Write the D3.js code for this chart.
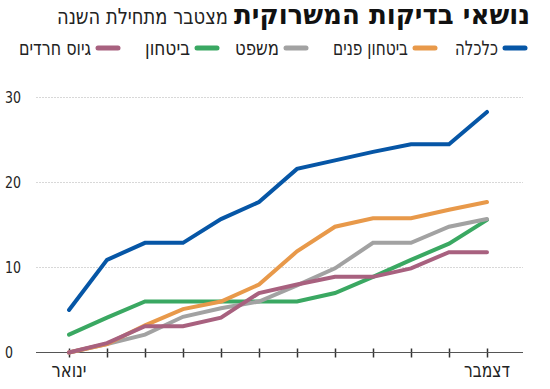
<!DOCTYPE html>
<html><head><meta charset="utf-8">
<script src="https://cdn.jsdelivr.net/npm/d3@7"></script>
<style>
html,body{margin:0;padding:0;background:#fff;}
svg{display:block;font-family:"DejaVu Sans",sans-serif;font-stretch:condensed;}
</style></head>
<body>
<svg id="chart" width="550" height="389"></svg>
<script>
const months = ["ינואר","פברואר","מרץ","אפריל","מאי","יוני","יולי","אוגוסט","ספטמבר","אוקטובר","נובמבר","דצמבר"];
const monthLabels = ["ינואר","","","","","","","","","","","דצמבר"];
const seriesNames = ["כלכלה","ביטחון פנים","משפט","ביטחון","גיוס חרדים"];
const seriesColors = ["#0656a6","#e8994a","#a2a2a2","#3aa862","#a8617f"];
const economy  = [5, 10.9, 12.9, 12.9, 15.7, 17.7, 21.6, 22.6, 23.6, 24.5, 24.5, 28.3];
const internal = [0, 1.0, 3.2, 5.1, 6.0, 8.0, 11.9, 14.8, 15.8, 15.8, 16.8, 17.7];
const law      = [0, 1.0, 2.1, 4.2, 5.2, 6.0, 7.9, 9.9, 12.9, 12.9, 14.8, 15.7];
const security = [2.1, 4.1, 6.0, 6.0, 6.0, 6.0, 6.0, 7.0, 8.9, 10.9, 12.8, 15.6];
const haredi   = [0, 1.1, 3.1, 3.1, 4.1, 7.0, 8.0, 8.9, 8.9, 9.9, 11.8, 11.8];
const yTicks = [0, 10, 20, 30];
const title = "נושאי בדיקות המשרוקית";
const subtitle = "מצטבר מתחילת השנה";

const seriesValues = [economy, internal, law, security, haredi];
const svg = d3.select("#chart");

const x = d3.scaleLinear().domain([0, 11]).range([69, 487]);
const y = d3.scaleLinear().domain([0, 30]).range([352.5, 97.5]);
const plotLeft = 36, plotRight = 523;

// Title
svg.append("text").attr("x", 530).attr("y", 24).attr("text-anchor", "end")
  .attr("font-size", 27).attr("font-weight", "bold").attr("fill", "#111")
  .attr("textLength", 296).attr("lengthAdjust", "spacingAndGlyphs").text(title);
svg.append("text").attr("x", 228).attr("y", 24).attr("text-anchor", "end")
  .attr("font-size", 22).attr("fill", "#222")
  .attr("textLength", 171).attr("lengthAdjust", "spacingAndGlyphs").text(subtitle);

// Legend
const legendX = [525, 435, 306, 217, 118];
const legendW = [43, 75, 44, 45, 72];
seriesNames.forEach((n, i) => {
  const g = svg.append("g");
  g.append("line").attr("x1", legendX[i] - 20).attr("x2", legendX[i])
    .attr("y1", 48).attr("y2", 48).attr("stroke", seriesColors[i])
    .attr("stroke-width", 5).attr("stroke-linecap", "round");
  g.append("text").attr("x", legendX[i] - 27).attr("y", 55).attr("text-anchor", "end")
    .attr("font-size", 20).attr("fill", "#222")
    .attr("textLength", legendW[i]).attr("lengthAdjust", "spacingAndGlyphs").text(n);
});

// Gridlines
svg.append("g").selectAll("line").data(yTicks.filter(d => d > 0)).join("line")
  .attr("x1", plotLeft).attr("x2", plotRight)
  .attr("y1", d => y(d)).attr("y2", d => y(d))
  .attr("stroke", "#d8d8d8").attr("stroke-width", 1).attr("stroke-dasharray", "2,1");

// Y tick labels
svg.append("g").selectAll("text").data(yTicks).join("text")
  .attr("x", 5).attr("y", d => y(d) + 5.5).attr("font-size", 15).attr("fill", "#222")
  .attr("textLength", d => d === 0 ? 8 : 16).attr("lengthAdjust", "spacingAndGlyphs")
  .text(d => d);

// X axis
const xAxis = d3.axisBottom(x).tickValues(d3.range(12)).tickSize(0).tickFormat("");
const axG = svg.append("g").attr("transform", `translate(0,${y(0)})`).call(xAxis);
axG.select(".domain").remove();
axG.append("line").attr("x1", plotLeft).attr("x2", plotRight).attr("stroke", "#555").attr("stroke-width", 1.2);
axG.selectAll(".tick").append("line").attr("y1", -4).attr("y2", 5).attr("stroke", "#333").attr("stroke-width", 1.5);
const monthW = [35, 46];
svg.append("g").selectAll("text").data(monthLabels.map((d, i) => ({d, i})).filter(o => o.d)).join("text")
  .attr("x", o => x(o.i)).attr("y", 377).attr("text-anchor", "middle")
  .attr("font-size", 20).attr("fill", "#222")
  .attr("textLength", (o, k) => monthW[k]).attr("lengthAdjust", "spacingAndGlyphs")
  .text(o => o.d);

// Lines
const line = d3.line().x((d, i) => x(i)).y(d => y(d));
const order = [3, 2, 1, 4, 0];
order.forEach(i => {
  svg.append("path").datum(seriesValues[i]).attr("d", line)
    .attr("fill", "none").attr("stroke", seriesColors[i]).attr("stroke-width", 4)
    .attr("stroke-linecap", "round").attr("stroke-linejoin", "miter");
});
</script>
</body></html>
